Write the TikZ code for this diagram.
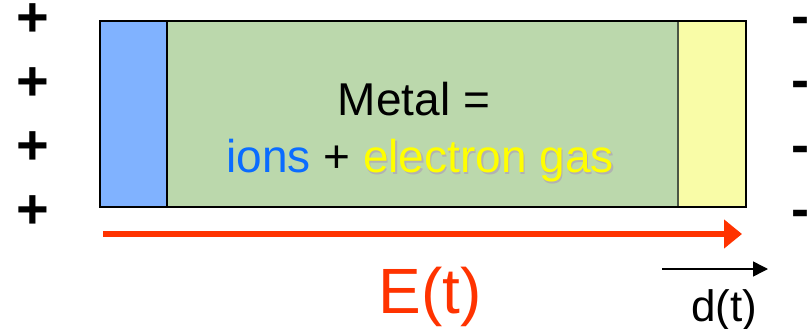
\documentclass[tikz,border=0pt]{standalone}
\usepackage{fontspec}
\setmainfont{Liberation Sans}
\usetikzlibrary{arrows.meta}

\definecolor{ionblue}{HTML}{80B2FF}
\definecolor{metalgreen}{HTML}{BBD8AC}
\definecolor{gasyellow}{HTML}{F9FCA7}
\definecolor{ionfont}{HTML}{0A6CFF}
\definecolor{gasfont}{HTML}{FFFF00}
\definecolor{fieldred}{HTML}{FF3300}

\begin{document}
\begin{tikzpicture}[
    x=1pt, y=-1pt,
    sign+/.style={font=\fontsize{56}{56}\selectfont\bfseries, inner sep=0pt},
    sign-/.style={font=\fontsize{54}{54}\selectfont\bfseries, inner sep=0pt, anchor=base},
    label/.style={font=\fontsize{46}{50}\selectfont, inner sep=0pt, anchor=base},
    field/.style={line width=6pt, fieldred, -{Triangle[length=18pt, width=28pt]}},
    disp/.style={line width=1.5pt, -{Triangle[length=15pt, width=15pt]}},
]
\useasboundingbox (0,0) rectangle (811,329);

% =============================================================================
% Metal slab: ions | bulk | electron gas
% =============================================================================
\fill[ionblue] (100,21) rectangle (167,207);
\fill[metalgreen] (167,21) rectangle (678,207);
\fill[gasyellow] (678,21) rectangle (746,207);
\draw[line width=1.5pt] (167,21) -- (167,207);
\draw[line width=1.2pt, black!60!metalgreen] (678,21) -- (678,207);
\draw[line width=1.5pt] (100,21) rectangle (746,207);

\node[label] (metal) at (414,115) {Metal =};
\node[label, black!30] (shadow) at (421.5,174)
    {\phantom{ions + }electron gas};
\node[label] (mix) at (420,172)
    {\textcolor{ionfont}{ions} + \textcolor{gasfont}{electron gas}};

% =============================================================================
% Surface charges
% =============================================================================
\foreach \y [count=\i] in {20, 84, 148, 212} {
    \node[sign+] (p\i) at (33,\y) {+};
    \node[sign-] (n\i) at (800,\y+15) {-};
}

% =============================================================================
% Field and displacement
% =============================================================================
\coordinate (e0) at (103,234);
\coordinate (e1) at (742,234);
\draw[field] (e0) -- (e1);
\node[font=\fontsize{64}{64}\selectfont, fieldred, inner sep=0pt, anchor=base]
    (efield) at (430,313) {E(t)};

\coordinate (d0) at (662,269);
\coordinate (d1) at (768,269);
\draw[disp] (d0) -- (d1);
\node[font=\fontsize{44}{44}\selectfont, inner sep=0pt, anchor=base]
    (dlabel) at (724,321) {d(t)};

\end{tikzpicture}
\end{document}
